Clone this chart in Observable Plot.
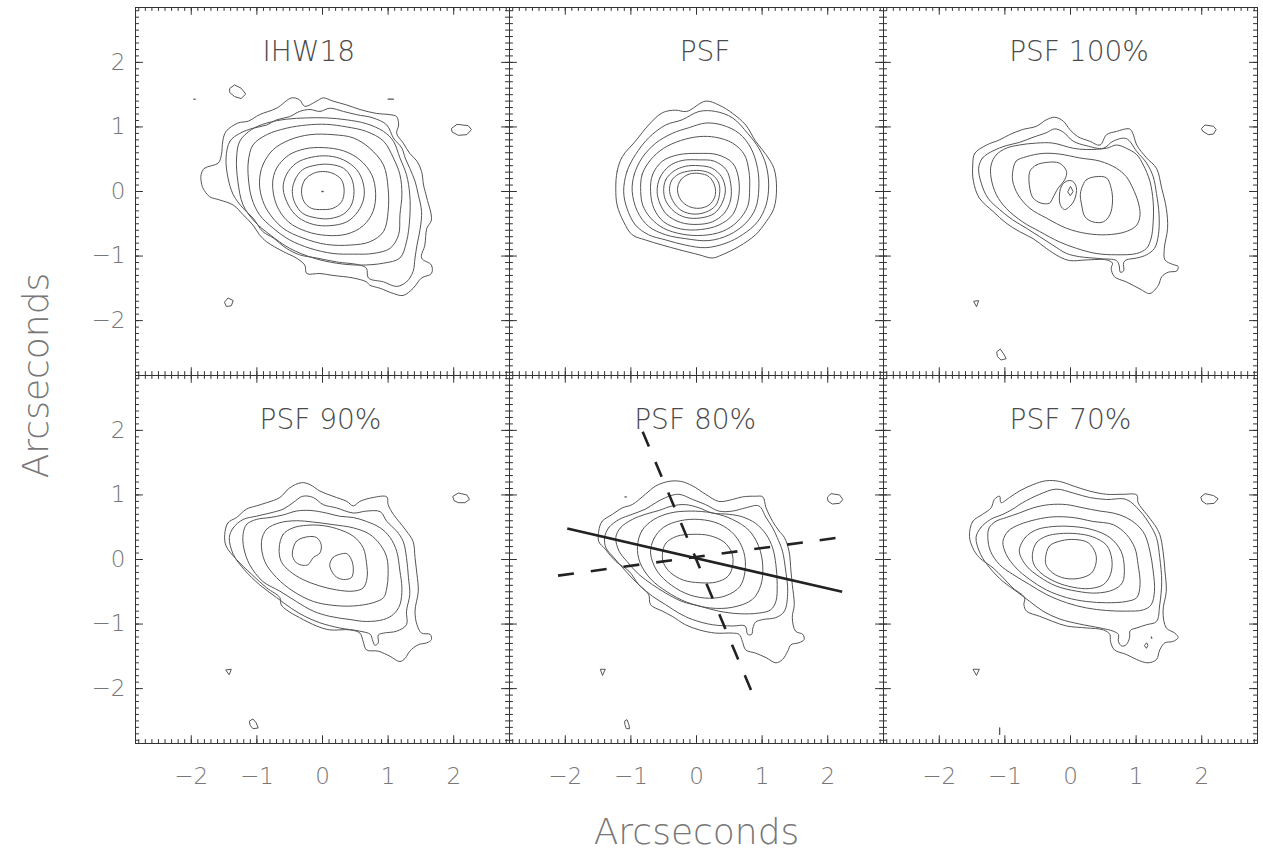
<!DOCTYPE html>
<html><head><meta charset="utf-8">
<script src="https://cdn.jsdelivr.net/npm/d3@7"></script>
<script src="https://cdn.jsdelivr.net/npm/@observablehq/plot@0.6"></script>
<style>body{margin:0;background:#fff}</style>
</head><body><div id="chart"></div>
<script>
// ---- axes ----
const xDomain = [-2.85, 2.85];
const yDomain = [-2.85, 2.85];
const majorTicks = [-2, -1, 0, 1, 2];
const majorLabels = ["\u22122", "\u22121", "0", "1", "2"];
const minorTicks = d3.range(-28, 29).map(i => i / 10);
const axisTitle = "Arcseconds";

// ---- panels ----
const panelTitles = ["IHW18", "PSF", "PSF 100%", "PSF 90%", "PSF 80%", "PSF 70%"];
const panelCols = [0, 1, 2, 0, 1, 2];
const panelRows = [0, 0, 0, 1, 1, 1];
const titleX = [-0.21, 0.13, 0.13, -0.03, -0.02, 0.0];
const titleY = [2.16, 2.16, 2.16, 2.16, 2.16, 2.16];

// ---- contours (arcsec), outer to inner ----
const ihw18Rings = [
 [[-1.85,0.26],[-1.80,0.36],[-1.59,0.44],[-1.54,0.57],[-1.52,0.78],[-1.47,0.93],[-1.29,1.06],[-1.13,1.09],[-0.96,1.19],[-0.70,1.29],[-0.47,1.45],[-0.35,1.42],[-0.27,1.32],[-0.09,1.40],[0.01,1.45],[0.16,1.40],[0.37,1.34],[0.57,1.27],[0.82,1.21],[1.03,1.19],[1.13,1.16],[1.16,1.03],[1.13,0.90],[1.23,0.75],[1.33,0.59],[1.44,0.47],[1.51,0.31],[1.54,0.10],[1.59,-0.10],[1.66,-0.44],[1.59,-0.57],[1.56,-0.83],[1.51,-1.03],[1.66,-1.14],[1.66,-1.27],[1.51,-1.34],[1.38,-1.50],[1.23,-1.61],[1.08,-1.58],[0.88,-1.50],[0.72,-1.45],[0.67,-1.40],[0.47,-1.34],[0.16,-1.30],[-0.04,-1.27],[-0.24,-1.27],[-0.27,-1.14],[-0.40,-1.03],[-0.60,-0.93],[-0.85,-0.78],[-0.96,-0.67],[-1.06,-0.52],[-1.21,-0.36],[-1.36,-0.21],[-1.57,-0.13],[-1.72,-0.08],[-1.82,0.05],[-1.85,0.16]],
 [[-1.47,0.52],[-1.41,0.78],[-1.26,0.90],[-1.06,0.98],[-0.85,1.03],[-0.70,1.11],[-0.50,1.16],[-0.35,1.24],[-0.19,1.27],[-0.04,1.24],[0.11,1.29],[0.32,1.24],[0.52,1.19],[0.77,1.14],[0.98,1.03],[1.08,0.83],[1.21,0.67],[1.26,0.52],[1.33,0.36],[1.41,0.16],[1.46,-0.05],[1.51,-0.31],[1.49,-0.57],[1.44,-0.83],[1.41,-1.03],[1.38,-1.24],[1.28,-1.40],[1.13,-1.47],[0.93,-1.40],[0.70,-1.34],[0.67,-1.19],[0.57,-1.14],[0.21,-1.09],[-0.09,-1.03],[-0.35,-0.98],[-0.55,-0.88],[-0.75,-0.72],[-0.91,-0.62],[-1.06,-0.41],[-1.21,-0.26],[-1.36,-0.05],[-1.44,0.21]],
 [[-1.29,0.16],[-1.31,0.52],[-1.26,0.78],[-1.08,0.96],[-0.85,1.06],[-0.55,1.12],[-0.24,1.14],[0.06,1.14],[0.37,1.11],[0.67,1.05],[0.93,0.93],[1.08,0.78],[1.18,0.52],[1.28,0.26],[1.33,-0.05],[1.33,-0.41],[1.28,-0.78],[1.18,-1.03],[0.93,-1.11],[0.57,-1.14],[0.21,-1.11],[-0.14,-1.03],[-0.50,-0.88],[-0.80,-0.67],[-1.03,-0.47],[-1.21,-0.21]],
 [[-1.13,0.21],[-1.13,0.47],[-1.06,0.72],[-0.85,0.88],[-0.55,0.98],[-0.24,1.03],[0.06,1.04],[0.37,1.00],[0.67,0.93],[0.93,0.78],[1.08,0.52],[1.18,0.26],[1.21,-0.05],[1.18,-0.36],[1.16,-0.67],[1.03,-0.88],[0.77,-0.96],[0.47,-0.97],[0.16,-0.96],[-0.19,-0.88],[-0.50,-0.75],[-0.75,-0.57],[-0.96,-0.36],[-1.08,-0.10]],
 [[-0.96,0.16],[-0.91,0.41],[-0.75,0.65],[-0.50,0.80],[-0.19,0.88],[0.16,0.88],[0.47,0.83],[0.72,0.67],[0.93,0.41],[1.00,0.05],[1.00,-0.31],[0.93,-0.62],[0.72,-0.78],[0.42,-0.83],[0.06,-0.82],[-0.30,-0.72],[-0.60,-0.57],[-0.83,-0.31],[-0.93,-0.08]],
 [[-0.76,0.13],[-0.70,0.36],[-0.52,0.56],[-0.27,0.66],[0.01,0.68],[0.32,0.63],[0.57,0.49],[0.75,0.26],[0.81,-0.03],[0.77,-0.31],[0.62,-0.53],[0.37,-0.66],[0.06,-0.68],[-0.24,-0.62],[-0.52,-0.47],[-0.70,-0.21]],
 [[-0.60,0.05],[-0.55,0.26],[-0.40,0.44],[-0.17,0.53],[0.09,0.55],[0.32,0.49],[0.52,0.34],[0.62,0.13],[0.63,-0.10],[0.54,-0.31],[0.37,-0.47],[0.11,-0.53],[-0.14,-0.51],[-0.37,-0.40],[-0.52,-0.21]],
 [[-0.46,0],[-0.42,0.18],[-0.30,0.34],[-0.09,0.41],[0.11,0.42],[0.32,0.36],[0.44,0.21],[0.48,0],[0.44,-0.21],[0.32,-0.35],[0.11,-0.42],[-0.09,-0.41],[-0.30,-0.34],[-0.42,-0.18]],
 [[-0.32,0.01],[-0.27,0.18],[-0.14,0.28],[0,0.31],[0.16,0.28],[0.29,0.18],[0.33,0.01],[0.29,-0.16],[0.16,-0.26],[0,-0.28],[-0.17,-0.26],[-0.28,-0.16]]
];
const ihw18Islands = [
 [[-1.41,1.60],[-1.34,1.65],[-1.24,1.60],[-1.17,1.51],[-1.24,1.44],[-1.34,1.47],[-1.41,1.53]],
 [[1.97,0.98],[2.05,1.04],[2.22,1.02],[2.27,0.96],[2.20,0.88],[2.07,0.87],[1.98,0.92]],
 [[-1.49,-1.71],[-1.44,-1.65],[-1.36,-1.69],[-1.39,-1.77],[-1.46,-1.78]]
];
const ihw18Marks = [[[-1.96,1.43],[-1.94,1.43]], [[1.00,1.43],[1.08,1.43]], [[-0.01,0],[0.01,0]]];

const psfRings = [
 [[-1.23,0.05],[-1.21,0.31],[-1.13,0.54],[-0.93,0.78],[-0.73,1.03],[-0.52,1.22],[-0.32,1.26],[-0.15,1.24],[0.14,1.40],[0.34,1.34],[0.55,1.21],[0.75,1.03],[0.90,0.78],[1.06,0.57],[1.18,0.36],[1.22,0.05],[1.18,-0.26],[1.06,-0.47],[0.90,-0.67],[0.65,-0.85],[0.39,-0.98],[0.24,-1.03],[0.04,-0.98],[-0.27,-0.90],[-0.52,-0.83],[-0.78,-0.75],[-0.98,-0.67],[-1.11,-0.47],[-1.21,-0.21]],
 [[-1.11,0],[-1.06,0.31],[-0.93,0.57],[-0.73,0.83],[-0.47,1.03],[-0.22,1.11],[0.04,1.24],[0.29,1.24],[0.55,1.14],[0.78,0.90],[0.95,0.67],[1.06,0.41],[1.10,0.10],[1.06,-0.21],[0.93,-0.47],[0.70,-0.67],[0.45,-0.80],[0.14,-0.87],[-0.17,-0.83],[-0.47,-0.75],[-0.73,-0.67],[-0.93,-0.52],[-1.06,-0.26]],
 [[-0.98,0],[-0.95,0.26],[-0.83,0.52],[-0.62,0.75],[-0.37,0.90],[-0.11,0.99],[0.14,1.06],[0.39,1.03],[0.65,0.90],[0.83,0.67],[0.93,0.36],[0.95,0.05],[0.90,-0.26],[0.75,-0.49],[0.50,-0.67],[0.19,-0.76],[-0.17,-0.73],[-0.47,-0.67],[-0.73,-0.54],[-0.90,-0.31]],
 [[-0.85,0],[-0.83,0.26],[-0.70,0.49],[-0.50,0.67],[-0.24,0.79],[0.04,0.85],[0.29,0.84],[0.55,0.75],[0.73,0.57],[0.80,0.31],[0.81,0.05],[0.78,-0.23],[0.62,-0.47],[0.39,-0.62],[0.09,-0.68],[-0.22,-0.66],[-0.50,-0.57],[-0.70,-0.41],[-0.82,-0.21]],
 [[-0.70,0],[-0.67,0.26],[-0.52,0.47],[-0.27,0.57],[0.04,0.59],[0.32,0.57],[0.55,0.44],[0.64,0.21],[0.64,-0.10],[0.55,-0.36],[0.34,-0.52],[0.06,-0.59],[-0.24,-0.58],[-0.50,-0.47],[-0.65,-0.26]],
 [[-0.60,0],[-0.56,0.21],[-0.42,0.39],[-0.22,0.48],[0.04,0.49],[0.27,0.47],[0.45,0.34],[0.52,0.13],[0.52,-0.13],[0.42,-0.34],[0.24,-0.47],[0.01,-0.51],[-0.24,-0.48],[-0.45,-0.36],[-0.56,-0.18]],
 [[-0.50,0],[-0.47,0.18],[-0.34,0.32],[-0.17,0.39],[0.04,0.40],[0.24,0.36],[0.38,0.23],[0.44,0.03],[0.39,-0.18],[0.27,-0.34],[0.06,-0.41],[-0.17,-0.40],[-0.34,-0.31],[-0.46,-0.16]],
 [[-0.41,0],[-0.38,0.17],[-0.27,0.27],[-0.09,0.32],[0.09,0.32],[0.24,0.26],[0.34,0.13],[0.35,-0.05],[0.29,-0.22],[0.14,-0.32],[-0.04,-0.35],[-0.22,-0.30],[-0.34,-0.18]],
 [[-0.29,0.03],[-0.24,0.18],[-0.11,0.27],[0.04,0.28],[0.19,0.23],[0.28,0.08],[0.28,-0.08],[0.19,-0.21],[0.04,-0.26],[-0.12,-0.23],[-0.24,-0.13]]
];

const psf100Rings = [
 [[-1.49,0.41],[-1.46,0.59],[-1.28,0.72],[-1.08,0.80],[-0.93,0.88],[-0.73,0.96],[-0.52,1.01],[-0.37,1.11],[-0.24,1.15],[-0.11,1.09],[-0.01,0.96],[0.11,0.85],[0.29,0.78],[0.45,0.72],[0.55,0.88],[0.70,0.93],[0.90,0.97],[0.95,0.90],[1.01,0.72],[1.16,0.52],[1.31,0.36],[1.39,0.05],[1.46,-0.26],[1.48,-0.57],[1.43,-0.88],[1.44,-1.06],[1.56,-1.13],[1.64,-1.16],[1.62,-1.23],[1.49,-1.25],[1.39,-1.32],[1.34,-1.45],[1.21,-1.58],[1.06,-1.51],[0.85,-1.40],[0.67,-1.32],[0.62,-1.19],[0.64,-1.11],[0.55,-1.06],[0.24,-1.06],[-0.01,-1.07],[-0.17,-1.01],[-0.37,-0.88],[-0.57,-0.73],[-0.78,-0.62],[-0.98,-0.49],[-1.18,-0.31],[-1.39,-0.10],[-1.48,0.16]],
 [[-1.40,0.36],[-1.34,0.52],[-1.18,0.63],[-0.98,0.71],[-0.78,0.76],[-0.57,0.84],[-0.37,0.91],[-0.24,0.97],[-0.11,0.92],[0.04,0.78],[0.24,0.71],[0.50,0.67],[0.65,0.78],[0.85,0.82],[1.01,0.62],[1.16,0.44],[1.26,0.23],[1.31,-0.03],[1.35,-0.36],[1.34,-0.67],[1.28,-0.88],[1.16,-0.98],[1.01,-1.03],[0.85,-1.06],[0.81,-1.10],[0.81,-1.23],[0.76,-1.25],[0.74,-1.14],[0.70,-1.07],[0.45,-1.04],[0.14,-1.01],[-0.06,-0.96],[-0.27,-0.83],[-0.47,-0.70],[-0.67,-0.57],[-0.88,-0.44],[-1.08,-0.28],[-1.26,-0.10],[-1.36,0.13]],
 [[-1.21,0.41],[-1.13,0.57],[-0.98,0.67],[-0.78,0.72],[-0.52,0.75],[-0.27,0.75],[0.04,0.67],[0.24,0.65],[0.55,0.67],[0.70,0.72],[0.85,0.67],[1.01,0.57],[1.11,0.41],[1.21,0.16],[1.26,-0.16],[1.26,-0.47],[1.23,-0.72],[1.16,-0.88],[1.01,-0.96],[0.70,-0.98],[0.39,-0.96],[0.09,-0.88],[-0.17,-0.78],[-0.47,-0.62],[-0.73,-0.47],[-0.98,-0.26],[-1.13,-0.05],[-1.21,0.21]],
 [[-0.88,0.31],[-0.83,0.47],[-0.67,0.54],[-0.42,0.59],[-0.17,0.58],[0.14,0.52],[0.45,0.47],[0.70,0.36],[0.85,0.23],[0.95,0.05],[1.03,-0.16],[1.06,-0.36],[1.01,-0.52],[0.85,-0.62],[0.55,-0.67],[0.24,-0.65],[-0.06,-0.57],[-0.37,-0.41],[-0.62,-0.26],[-0.80,-0.05],[-0.88,0.16]],
 [[-0.62,0.31],[-0.52,0.41],[-0.37,0.45],[-0.17,0.44],[-0.06,0.31],[-0.09,0.18],[-0.19,0.05],[-0.27,-0.10],[-0.32,-0.18],[-0.45,-0.18],[-0.57,-0.10],[-0.62,0.05]],
 [[0.17,0.05],[0.24,0.18],[0.39,0.23],[0.55,0.21],[0.62,0.05],[0.64,-0.16],[0.60,-0.36],[0.50,-0.47],[0.34,-0.47],[0.22,-0.39],[0.17,-0.21],[0.15,-0.05]],
 [[-0.17,-0.10],[-0.14,0.08],[-0.06,0.16],[0.03,0.16],[0.09,0.06],[0.06,-0.13],[-0.01,-0.23],[-0.09,-0.28],[-0.15,-0.22]]
];
const psf100Islands = [
 [[-0.04,0],[0,0.08],[0.04,0],[0,-0.06]],
 [[2.00,0.98],[2.05,1.03],[2.18,1.01],[2.22,0.96],[2.18,0.89],[2.10,0.88],[2.02,0.93]],
 [[-1.47,-1.70],[-1.40,-1.69],[-1.43,-1.78]],
 [[-1.12,-2.48],[-1.07,-2.44],[-1.01,-2.53],[-0.98,-2.59],[-1.06,-2.61],[-1.11,-2.56]]
];

const psf90Rings = [
 [[-1.49,0.39],[-1.44,0.57],[-1.31,0.65],[-1.16,0.78],[-1.01,0.83],[-0.85,0.88],[-0.65,0.96],[-0.50,1.11],[-0.32,1.19],[-0.19,1.16],[-0.04,1.06],[0.16,0.98],[0.37,0.90],[0.47,0.83],[0.57,0.90],[0.77,0.96],[0.98,0.97],[1.00,0.85],[1.08,0.70],[1.18,0.57],[1.28,0.44],[1.38,0.28],[1.41,0.03],[1.44,-0.23],[1.46,-0.49],[1.41,-0.80],[1.44,-1.01],[1.51,-1.14],[1.64,-1.16],[1.66,-1.24],[1.59,-1.29],[1.46,-1.32],[1.33,-1.42],[1.26,-1.53],[1.18,-1.58],[1.03,-1.50],[0.85,-1.42],[0.67,-1.40],[0.62,-1.27],[0.57,-1.14],[0.42,-1.09],[0.11,-1.09],[-0.09,-1.03],[-0.35,-0.90],[-0.55,-0.78],[-0.63,-0.70],[-0.65,-0.59],[-0.85,-0.44],[-1.08,-0.23],[-1.31,0],[-1.47,0.21]],
 [[-1.42,0.34],[-1.36,0.49],[-1.21,0.62],[-1.01,0.67],[-0.80,0.72],[-0.60,0.78],[-0.45,0.88],[-0.30,0.98],[-0.14,0.96],[0.01,0.85],[0.21,0.80],[0.47,0.72],[0.67,0.75],[0.88,0.74],[0.98,0.59],[1.13,0.44],[1.23,0.28],[1.28,0.03],[1.31,-0.28],[1.33,-0.54],[1.28,-0.80],[1.28,-1.01],[1.13,-1.11],[0.93,-1.14],[0.85,-1.17],[0.85,-1.29],[0.80,-1.33],[0.76,-1.24],[0.73,-1.16],[0.57,-1.11],[0.26,-1.06],[-0.04,-0.98],[-0.27,-0.88],[-0.47,-0.76],[-0.70,-0.59],[-0.96,-0.39],[-1.19,-0.16],[-1.36,0.08]],
 [[-1.21,0.39],[-1.16,0.54],[-1.01,0.62],[-0.80,0.65],[-0.60,0.69],[-0.40,0.75],[-0.19,0.76],[0.06,0.72],[0.26,0.67],[0.47,0.65],[0.67,0.59],[0.88,0.49],[1.03,0.34],[1.13,0.13],[1.18,-0.18],[1.21,-0.44],[1.18,-0.70],[1.08,-0.85],[0.93,-0.93],[0.67,-0.96],[0.42,-0.93],[0.11,-0.88],[-0.14,-0.80],[-0.40,-0.65],[-0.65,-0.49],[-0.91,-0.34],[-1.11,-0.08],[-1.20,0.18]],
 [[-0.93,0.28],[-0.85,0.47],[-0.65,0.57],[-0.40,0.60],[-0.14,0.58],[0.16,0.54],[0.47,0.49],[0.72,0.39],[0.88,0.23],[0.98,0.03],[1.00,-0.23],[0.98,-0.44],[0.93,-0.59],[0.77,-0.67],[0.47,-0.72],[0.16,-0.71],[-0.14,-0.65],[-0.45,-0.49],[-0.70,-0.28],[-0.88,-0.03]],
 [[-0.66,0.18],[-0.60,0.39],[-0.45,0.49],[-0.24,0.53],[-0.04,0.53],[0.21,0.48],[0.47,0.36],[0.62,0.18],[0.67,-0.05],[0.68,-0.28],[0.62,-0.44],[0.47,-0.49],[0.21,-0.47],[-0.04,-0.41],[-0.30,-0.31],[-0.50,-0.18],[-0.63,-0.03]],
 [[-0.46,0.10],[-0.40,0.28],[-0.24,0.35],[-0.09,0.34],[-0.02,0.23],[-0.04,0.10],[-0.14,0.03],[-0.22,-0.08],[-0.30,-0.09],[-0.40,-0.05],[-0.45,0.03]],
 [[0.11,-0.08],[0.16,0.03],[0.26,0.08],[0.37,0.09],[0.44,0],[0.47,-0.16],[0.44,-0.28],[0.32,-0.31],[0.21,-0.27],[0.14,-0.18]]
];
const psf90Islands = [
 [[1.99,0.98],[2.07,1.03],[2.20,1.00],[2.24,0.93],[2.17,0.88],[2.07,0.88],[2.01,0.91]],
 [[-1.47,-1.71],[-1.39,-1.70],[-1.42,-1.78]],
 [[-1.11,-2.50],[-1.06,-2.47],[-1.01,-2.53],[-0.98,-2.61],[-1.06,-2.62],[-1.10,-2.57]]
];

const psf80Rings = [
 [[-1.49,0.44],[-1.44,0.59],[-1.28,0.70],[-1.13,0.80],[-0.98,0.85],[-0.78,1.01],[-0.62,1.14],[-0.42,1.21],[-0.24,1.21],[-0.06,1.14],[0.14,1.01],[0.34,0.90],[0.55,0.93],[0.70,0.97],[0.90,0.98],[1.01,0.97],[1.06,0.80],[1.16,0.59],[1.26,0.44],[1.34,0.34],[1.41,0.13],[1.44,-0.18],[1.46,-0.39],[1.49,-0.70],[1.46,-0.90],[1.51,-1.11],[1.62,-1.16],[1.64,-1.24],[1.56,-1.29],[1.44,-1.32],[1.39,-1.42],[1.31,-1.55],[1.21,-1.60],[1.06,-1.52],[0.90,-1.45],[0.75,-1.40],[0.70,-1.27],[0.65,-1.16],[0.55,-1.14],[0.29,-1.14],[0.04,-1.09],[-0.17,-1.01],[-0.37,-0.88],[-0.52,-0.80],[-0.70,-0.70],[-0.73,-0.54],[-0.88,-0.39],[-1.03,-0.18],[-1.23,-0.03],[-1.39,0.16],[-1.49,0.28]],
 [[-1.40,0.34],[-1.34,0.49],[-1.18,0.62],[-0.98,0.70],[-0.78,0.78],[-0.62,0.88],[-0.47,0.96],[-0.27,1.01],[-0.06,0.93],[0.14,0.85],[0.34,0.75],[0.55,0.75],[0.75,0.80],[0.95,0.83],[1.06,0.65],[1.16,0.49],[1.23,0.34],[1.31,0.13],[1.36,-0.18],[1.39,-0.49],[1.34,-0.80],[1.21,-0.90],[1.01,-0.93],[0.90,-0.97],[0.86,-1.06],[0.84,-1.16],[0.78,-1.16],[0.74,-1.03],[0.55,-1.03],[0.24,-1.01],[-0.06,-0.93],[-0.27,-0.83],[-0.47,-0.70],[-0.67,-0.57],[-0.88,-0.39],[-1.08,-0.18],[-1.26,0.03],[-1.38,0.18]],
 [[-1.23,0.34],[-1.16,0.49],[-0.98,0.62],[-0.78,0.70],[-0.57,0.76],[-0.37,0.83],[-0.17,0.85],[0.04,0.80],[0.24,0.72],[0.50,0.70],[0.70,0.66],[0.90,0.56],[1.06,0.39],[1.16,0.18],[1.21,-0.08],[1.23,-0.39],[1.21,-0.65],[1.13,-0.78],[0.95,-0.83],[0.65,-0.84],[0.34,-0.80],[0.04,-0.72],[-0.22,-0.65],[-0.47,-0.52],[-0.67,-0.39],[-0.88,-0.23],[-1.06,-0.03],[-1.18,0.13]],
 [[-0.90,0.20],[-0.83,0.45],[-0.65,0.62],[-0.40,0.72],[-0.10,0.75],[0.25,0.72],[0.55,0.62],[0.80,0.45],[0.95,0.20],[1.01,-0.10],[0.98,-0.40],[0.85,-0.62],[0.55,-0.74],[0.20,-0.75],[-0.15,-0.66],[-0.45,-0.50],[-0.70,-0.30],[-0.86,-0.05]],
 [[-0.70,0.10],[-0.65,0.32],[-0.50,0.50],[-0.25,0.60],[0.05,0.62],[0.35,0.55],[0.58,0.38],[0.72,0.12],[0.74,-0.18],[0.66,-0.42],[0.45,-0.56],[0.20,-0.60],[-0.10,-0.55],[-0.38,-0.40],[-0.60,-0.18]],
 [[-0.52,0.08],[-0.47,0.25],[-0.30,0.36],[-0.05,0.39],[0.20,0.37],[0.42,0.27],[0.54,0.10],[0.55,-0.10],[0.48,-0.26],[0.30,-0.35],[0.05,-0.36],[-0.20,-0.32],[-0.40,-0.20],[-0.50,-0.06]]
];
const psf80Islands = [
 [[2.00,0.97],[2.05,1.02],[2.18,1.00],[2.23,0.93],[2.18,0.87],[2.07,0.86],[2.01,0.90]],
 [[-1.46,-1.70],[-1.39,-1.70],[-1.43,-1.79]],
 [[-1.09,-2.50],[-1.06,-2.48],[-1.03,-2.56],[-1.02,-2.62],[-1.07,-2.62],[-1.09,-2.56]]
];
const psf80Marks = [[[-1.09,0.97],[-1.07,0.97]]];

const psf70Rings = [
 [[-1.54,0.36],[-1.49,0.59],[-1.34,0.70],[-1.21,0.80],[-1.16,0.93],[-1.08,0.98],[-1.06,0.88],[-0.93,0.96],[-0.78,1.06],[-0.57,1.16],[-0.37,1.22],[-0.17,1.21],[0.04,1.14],[0.29,1.06],[0.55,1.01],[0.80,1.01],[1.01,1.00],[1.03,0.88],[1.16,0.70],[1.28,0.54],[1.36,0.39],[1.41,0.13],[1.44,-0.18],[1.46,-0.49],[1.41,-0.80],[1.46,-1.06],[1.59,-1.14],[1.64,-1.21],[1.56,-1.27],[1.44,-1.29],[1.36,-1.40],[1.31,-1.55],[1.18,-1.60],[1.01,-1.55],[0.85,-1.47],[0.67,-1.40],[0.61,-1.27],[0.60,-1.16],[0.50,-1.09],[0.24,-1.06],[-0.06,-1.03],[-0.27,-0.96],[-0.47,-0.88],[-0.67,-0.80],[-0.71,-0.70],[-0.70,-0.59],[-0.88,-0.44],[-1.03,-0.28],[-1.18,-0.13],[-1.39,0.03],[-1.49,0.18]],
 [[-1.44,0.34],[-1.37,0.49],[-1.22,0.62],[-1.03,0.70],[-0.88,0.78],[-0.73,0.88],[-0.47,1.01],[-0.22,1.09],[0.04,1.03],[0.29,0.96],[0.55,0.93],[0.85,0.93],[1.06,0.75],[1.21,0.54],[1.31,0.34],[1.36,0.03],[1.39,-0.34],[1.36,-0.70],[1.31,-0.96],[1.16,-1.01],[1.01,-1.06],[0.91,-1.10],[0.90,-1.21],[0.85,-1.32],[0.78,-1.34],[0.73,-1.27],[0.73,-1.16],[0.65,-1.11],[0.45,-1.06],[0.14,-1.00],[-0.17,-0.92],[-0.42,-0.80],[-0.62,-0.65],[-0.83,-0.49],[-1.03,-0.34],[-1.23,-0.13],[-1.37,0.08]],
 [[-1.24,0.49],[-1.14,0.59],[-0.98,0.65],[-0.78,0.72],[-0.57,0.80],[-0.32,0.85],[-0.06,0.85],[0.19,0.80],[0.45,0.75],[0.65,0.72],[0.85,0.65],[1.01,0.54],[1.13,0.39],[1.21,0.13],[1.26,-0.18],[1.28,-0.49],[1.23,-0.70],[1.11,-0.78],[0.85,-0.80],[0.55,-0.79],[0.24,-0.75],[-0.06,-0.67],[-0.37,-0.54],[-0.62,-0.39],[-0.88,-0.23],[-1.08,-0.08],[-1.22,0.13],[-1.26,0.34]],
 [[-1.03,0.28],[-0.95,0.44],[-0.78,0.54],[-0.52,0.62],[-0.27,0.66],[0.04,0.65],[0.34,0.59],[0.65,0.54],[0.85,0.39],[0.98,0.18],[1.03,-0.08],[1.06,-0.39],[1.01,-0.59],[0.85,-0.65],[0.55,-0.67],[0.24,-0.65],[-0.06,-0.59],[-0.37,-0.47],[-0.62,-0.31],[-0.83,-0.13],[-0.98,0.08]],
 [[-0.78,0.13],[-0.69,0.34],[-0.52,0.46],[-0.27,0.51],[0.04,0.51],[0.34,0.46],[0.60,0.34],[0.77,0.13],[0.82,-0.13],[0.79,-0.36],[0.65,-0.47],[0.39,-0.52],[0.09,-0.49],[-0.22,-0.41],[-0.47,-0.27],[-0.67,-0.10]],
 [[-0.58,0.08],[-0.52,0.26],[-0.37,0.36],[-0.17,0.40],[0.09,0.40],[0.34,0.35],[0.55,0.22],[0.63,0],[0.61,-0.23],[0.50,-0.39],[0.29,-0.45],[0.04,-0.43],[-0.22,-0.35],[-0.45,-0.21],[-0.56,-0.07]],
 [[-0.38,0.03],[-0.32,0.21],[-0.14,0.29],[0.06,0.31],[0.27,0.26],[0.38,0.10],[0.39,-0.05],[0.32,-0.21],[0.14,-0.29],[-0.09,-0.29],[-0.27,-0.21],[-0.37,-0.09]]
];
const psf70Islands = [
 [[1.99,0.97],[2.05,1.02],[2.18,0.99],[2.25,0.94],[2.19,0.87],[2.07,0.86],[2.01,0.90]],
 [[-1.48,-1.70],[-1.39,-1.70],[-1.43,-1.79]],
 [[1.13,-1.33],[1.16,-1.29],[1.18,-1.33],[1.16,-1.37]]
];
const psf70Marks = [[[-1.08,-2.61],[-1.08,-2.71]], [[1.23,-1.20],[1.24,-1.22]]];

// ---- slit / axis lines drawn on the PSF 80% panel ----
const slitNames = ["major", "slitA", "slitB"];
const slitX1 = [-1.97, -0.82, -2.11];
const slitY1 = [0.48, 1.98, -0.25];
const slitX2 = [2.22, 0.88, 2.25];
const slitY2 = [-0.50, -2.14, 0.35];
const slitDashed = [false, true, true];

// ---- build tables ----
const ringSets = [ihw18Rings, psfRings, psf100Rings, psf90Rings, psf80Rings, psf70Rings];
const islandSets = [ihw18Islands, [], psf100Islands, psf90Islands, psf80Islands, psf70Islands];
const markSets = [ihw18Marks, [], [], [], psf80Marks, psf70Marks];

function toRows(sets, tag) {
  return sets.flatMap((rings, p) => rings.flatMap((ring, r) =>
    ring.map(([x, y]) => ({x, y, col: panelCols[p], row: panelRows[p], id: `${tag}-${p}-${r}`}))));
}
const contourRows = toRows(ringSets, "c");
const islandRows = toRows(islandSets, "i");
const markRows = toRows(markSets, "m");
const titleRows = panelTitles.map((t, i) => ({title: t, x: titleX[i], y: titleY[i], col: panelCols[i], row: panelRows[i]}));
const slitRows = slitNames.map((n, i) => ({name: n, x1: slitX1[i], y1: slitY1[i], x2: slitX2[i], y2: slitY2[i], dashed: slitDashed[i], col: 1, row: 1}));

const majLenX = 0.12, majLenY = 0.12, minLenX = 0.06, minLenY = 0.06;
const tickColor = "#333";
const lineColor = "#555";

const chart = Plot.plot({
  width: 1263, height: 855,
  marginLeft: 135, marginRight: 6, marginTop: 6, marginBottom: 112,
  x: {domain: xDomain},
  y: {domain: yDomain},
  fx: {domain: [0, 1, 2], padding: 0},
  fy: {domain: [0, 1], padding: 0},
  style: {fontFamily: "'DejaVu Sans', sans-serif", fontWeight: 200, background: "#fff", color: "#555"},
  marks: [
    Plot.line(contourRows, {x: "x", y: "y", z: "id", fx: "col", fy: "row", curve: "catmull-rom-closed", stroke: lineColor, strokeWidth: 1}),
    Plot.line(islandRows, {x: "x", y: "y", z: "id", fx: "col", fy: "row", curve: "linear-closed", stroke: lineColor, strokeWidth: 1}),
    Plot.line(markRows, {x: "x", y: "y", z: "id", fx: "col", fy: "row", stroke: lineColor, strokeWidth: 1.3}),
    Plot.link(slitRows.filter(d => !d.dashed), {x1: "x1", y1: "y1", x2: "x2", y2: "y2", fx: "col", fy: "row", stroke: "#222", strokeWidth: 2.6}),
    Plot.link(slitRows.filter(d => d.dashed), {x1: "x1", y1: "y1", x2: "x2", y2: "y2", fx: "col", fy: "row", stroke: "#222", strokeWidth: 2.6, strokeDasharray: "16,17"}),
    Plot.text(titleRows, {x: "x", y: "y", text: "title", fx: "col", fy: "row", fontSize: 28, fill: "#4a4a4a", textAnchor: "middle", lineAnchor: "middle"}),
    // inward ticks on all four sides
    Plot.ruleX(minorTicks, {x: d => d, y1: yDomain[0], y2: yDomain[0] + minLenY, stroke: tickColor}),
    Plot.ruleX(minorTicks, {x: d => d, y1: yDomain[1], y2: yDomain[1] - minLenY, stroke: tickColor}),
    Plot.ruleY(minorTicks, {y: d => d, x1: xDomain[0], x2: xDomain[0] + minLenX, stroke: tickColor}),
    Plot.ruleY(minorTicks, {y: d => d, x1: xDomain[1], x2: xDomain[1] - minLenX, stroke: tickColor}),
    Plot.ruleX(majorTicks, {x: d => d, y1: yDomain[0], y2: yDomain[0] + majLenY, stroke: tickColor}),
    Plot.ruleX(majorTicks, {x: d => d, y1: yDomain[1], y2: yDomain[1] - majLenY, stroke: tickColor}),
    Plot.ruleY(majorTicks, {y: d => d, x1: xDomain[0], x2: xDomain[0] + majLenX, stroke: tickColor}),
    Plot.ruleY(majorTicks, {y: d => d, x1: xDomain[1], x2: xDomain[1] - majLenX, stroke: tickColor}),
    Plot.frame({stroke: "#333", strokeWidth: 1}),
    Plot.axisX({anchor: "bottom", ticks: majorTicks, tickFormat: d => majorLabels[majorTicks.indexOf(d)], tickSize: 0, tickPadding: 24, fontSize: 23, label: null, fill: "#777"}),
    Plot.axisY({anchor: "left", ticks: majorTicks, tickFormat: d => majorLabels[majorTicks.indexOf(d)], tickSize: 0, tickPadding: 10, fontSize: 23, label: null, fill: "#777"}),
    Plot.axisFx({anchor: "bottom", tickSize: 0, tickFormat: () => "", label: axisTitle, labelAnchor: "center", labelOffset: 100, fontSize: 36, fill: "#777"}),
    Plot.axisFy({anchor: "left", tickSize: 0, tickFormat: () => "", label: axisTitle, labelAnchor: "center", labelOffset: 113, fontSize: 36, fill: "#777"})
  ]
});
document.getElementById("chart").append(chart);
</script></body></html>
